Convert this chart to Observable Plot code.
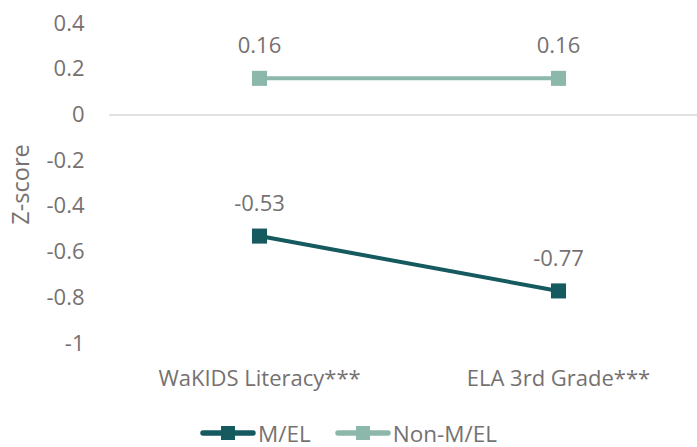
<!DOCTYPE html>
<html>
<head>
<meta charset="utf-8">
<script src="https://cdn.jsdelivr.net/npm/d3@7"></script>
<script src="https://cdn.jsdelivr.net/npm/@observablehq/plot@0.6"></script>
<style>
  body { margin: 0; background: #fff; font-family: "Open Sans", "Noto Sans", sans-serif; }
  #chart { width: 697px; height: 447px; position: relative; overflow: hidden; }
  #legend { display: flex; justify-content: center; align-items: center; font-size: 22.5px; color: #767171; height: 40px; margin-top: 0; }
  .item { display: flex; align-items: center; margin: 0 12px; }
  .item svg { margin-right: 2px; }
</style>
</head>
<body>
<div id="chart"></div>
<script>
const categories = ["WaKIDS Literacy***", "ELA 3rd Grade***"];
const seriesNames = ["M/EL", "Non-M/EL"];
const mel = [-0.53, -0.77];
const nonMel = [0.16, 0.16];
const yTicks = [0.4, 0.2, 0, -0.2, -0.4, -0.6, -0.8, -1];
const colors = ["#145a5f", "#8cb8ab"];

const data = [];
categories.forEach((c, i) => {
  data.push({cat: c, series: seriesNames[0], value: mel[i]});
  data.push({cat: c, series: seriesNames[1], value: nonMel[i]});
});

const textColor = "#767171";
const fontFamily = "'Open Sans', 'Noto Sans', sans-serif";

const plot = Plot.plot({
  width: 697,
  height: 413,
  marginLeft: 109,
  marginRight: 0,
  marginTop: 23,
  marginBottom: 70,
  style: {fontFamily, fontSize: "22px", color: textColor, background: "#fff"},
  x: {type: "point", domain: categories, range: [109, 707], padding: 0.5},
  y: {domain: [-1, 0.4], range: [343, 23]},
  color: {domain: seriesNames, range: colors},
  marks: [
    Plot.ruleY([0], {stroke: "#d9d9d9", strokeWidth: 1.5}),
    Plot.axisY({ticks: yTicks, tickSize: 0, tickPadding: 25, tickFormat: d => String(d), fontSize: 22, fill: textColor, label: null}),
    Plot.text(["Z-score"], {frameAnchor: "left", textAnchor: "middle", dx: -88, rotate: -90, fontSize: 23.5, fill: textColor, dy: 1}),
    Plot.axisX({tickSize: 0, tickPadding: 27, fontSize: 22, fill: textColor, label: null}),
    Plot.line(data, {x: "cat", y: "value", z: "series", stroke: "series", strokeWidth: 4}),
    Plot.dot(data, {x: "cat", y: "value", fill: "series", symbol: "square", r: 8.5, stroke: null}),
    Plot.text(data, {x: "cat", y: "value", text: d => d.value.toFixed(2), dy: -32, fontSize: 22, fill: textColor})
  ]
});

const chart = document.getElementById("chart");
chart.appendChild(plot);

const legend = document.createElement("div");
legend.id = "legend";
seriesNames.forEach((s, i) => {
  const item = document.createElement("div");
  item.className = "item";
  item.innerHTML = `<svg width="56" height="16"><line x1="3" x2="53" y1="8" y2="8" stroke="${colors[i]}" stroke-width="5.5" stroke-linecap="round"/><rect x="21" y="1" width="14" height="14" fill="${colors[i]}"/></svg><span>${s}</span>`;
  legend.appendChild(item);
});
chart.appendChild(legend);
</script>
</body>
</html>
